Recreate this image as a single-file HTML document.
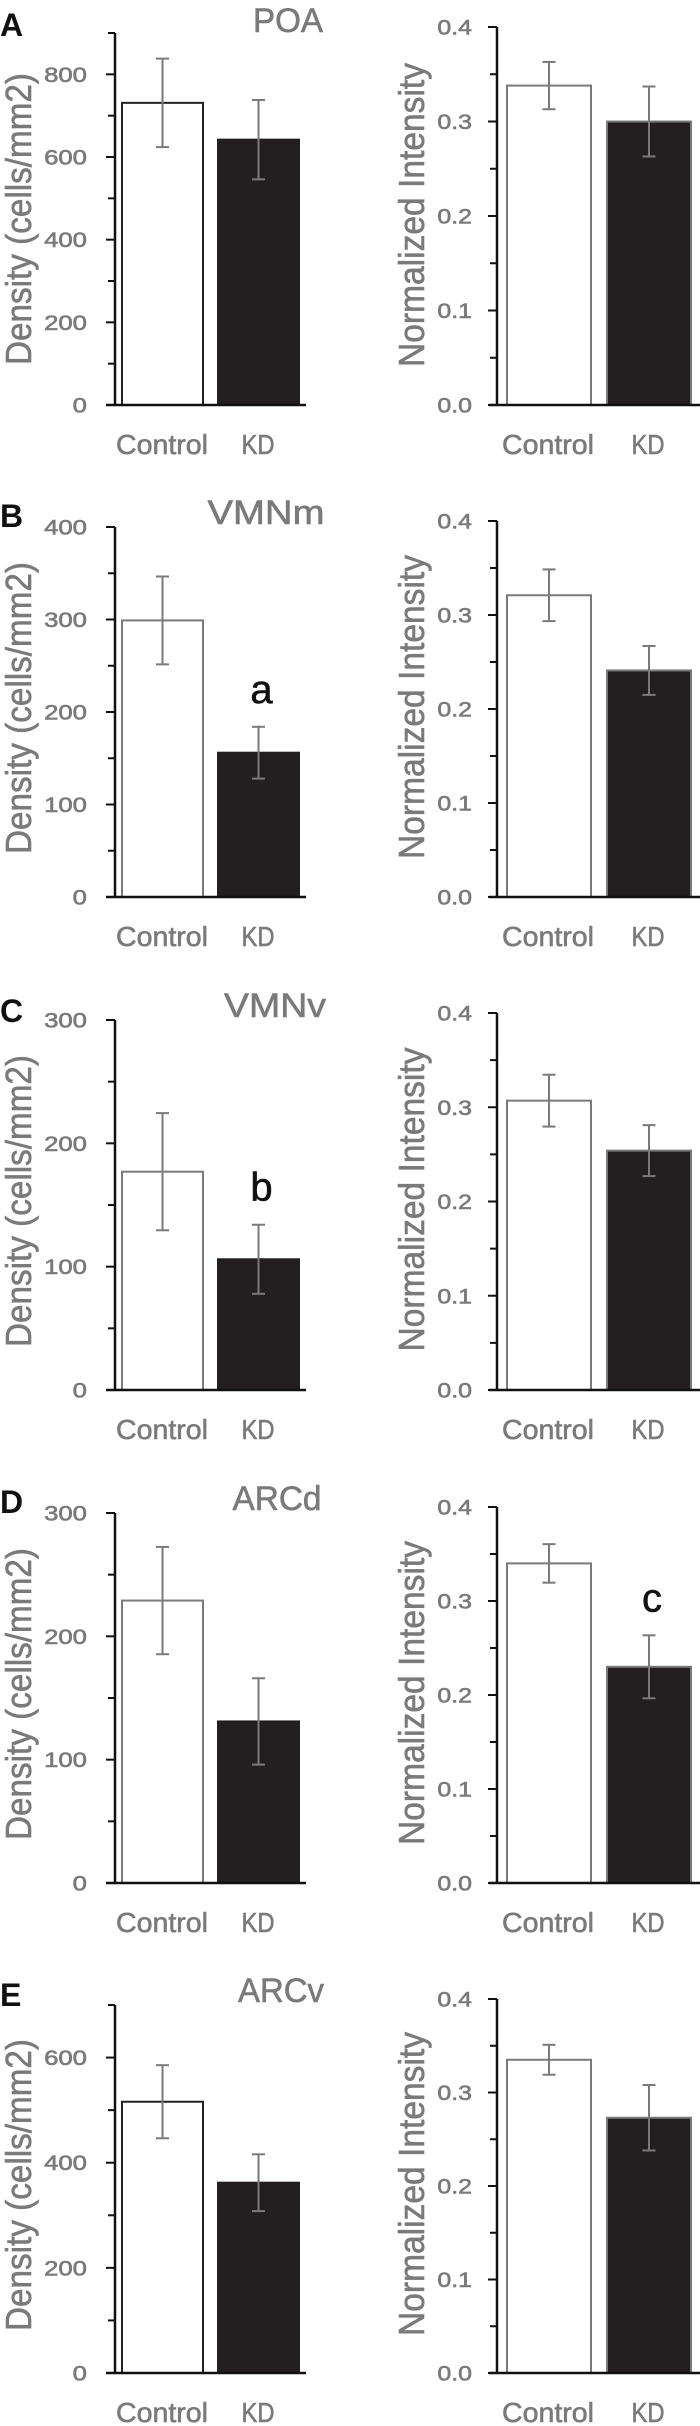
<!DOCTYPE html>
<html><head><meta charset="utf-8">
<style>
html,body{margin:0;padding:0;background:#fff;}
svg{display:block;font-family:"Liberation Sans",sans-serif;}
</style></head>
<body>
<svg id="fig" width="700" height="2426" viewBox="0 0 700 2426" xmlns="http://www.w3.org/2000/svg"></svg>
<script>
const panelLetters = ['A','B','C','D','E'];
const regionTitles = ['POA','VMNm','VMNv','ARCd','ARCv'];
const categories = ['Control','KD'];
const densityControl = [731,299,177,229,516];
const densityControlErr = [107,47.5,47.5,43.5,69.5];
const densityKD = [642,156,106,131,362];
const densityKDErr = [96,28,28,35,54];
const densityMax = [900,400,300,300,700];
const densityMajor = [200,100,100,100,200];
const intensityControl = [0.338,0.321,0.307,0.340,0.335];
const intensityControlErr = [0.025,0.0275,0.0275,0.0205,0.016];
const intensityKD = [0.300,0.241,0.254,0.230,0.273];
const intensityKDErr = [0.037,0.026,0.027,0.0335,0.035];
const intensityMax = 0.4;
const intensityMajor = 0.1;
const sigLetters = [
  {panel:1, chart:'left', text:'a'},
  {panel:2, chart:'left', text:'b'},
  {panel:3, chart:'right', text:'c'}
];

const NS='http://www.w3.org/2000/svg';
const svg=document.getElementById('fig');
function mk(tag, attrs, parent){
  const e=document.createElementNS(NS,tag);
  for(const k in attrs) e.setAttribute(k,attrs[k]);
  (parent||svg).appendChild(e);
  return e;
}
const baselines=[405,897,1390,1883,2373];
const leftTops=[33,527,1020,1513,2005];
const rightTops=[27,521,1013,1507,1999];
const GRAY='#7a7a7a';

function tickLen(s){let n=0;for(const c of s){n+= (c==='.')?6:14.3;}return n;}

function drawChart(p, side){
  const g=mk('g',{});
  
  
  const left = side==='left';
  const ax = left?115:497;
  const x0 = left?106:489, x1 = left?306:700;
  const base = baselines[p], top = left?leftTops[p]:rightTops[p];
  const vmax = left?densityMax[p]:intensityMax;
  const major = left?densityMajor[p]:intensityMajor;
  const y = v => base - (v/vmax)*(base-top);
  const bars = left?[[122,203],[218,299]]:[[507,591],[607,691]];
  const vals = left?[densityControl[p],densityKD[p]]:[intensityControl[p],intensityKD[p]];
  const errs = left?[densityControlErr[p],densityKDErr[p]]:[intensityControlErr[p],intensityKDErr[p]];
  const ctrlStroke = (left && (p===0||p===4))?'#222':GRAY;
  for(let i=0;i<2;i++){
    const r=mk('rect',{x:bars[i][0],y:y(vals[i]),width:bars[i][1]-bars[i][0],height:base-y(vals[i]),
      fill:i===0?'#fff':'#231f20',stroke:i===0?ctrlStroke:(left?'#231f20':GRAY),'stroke-width':2},g);
    
    
  }
  for(let i=0;i<2;i++){
    const cx=(bars[i][0]+bars[i][1])/2;
    const eg=mk('g',{stroke:GRAY,'stroke-width':2},g);
    
    
    mk('line',{x1:cx,x2:cx,y1:y(vals[i]+errs[i]),y2:y(vals[i]-errs[i])},eg);
    mk('line',{x1:cx-6.5,x2:cx+6.5,y1:y(vals[i]+errs[i]),y2:y(vals[i]+errs[i])},eg);
    mk('line',{x1:cx-6.5,x2:cx+6.5,y1:y(vals[i]-errs[i]),y2:y(vals[i]-errs[i])},eg);
  }
  const ya=mk('line',{x1:ax,x2:ax,y1:top,y2:base,stroke:'#111','stroke-width':2.5},g);
  
  
  const xa=mk('line',{x1:x0,x2:x1,y1:base,y2:base,stroke:'#111','stroke-width':2.5},g);
  
  
  const nMinor=Math.round(vmax/(major/2));
  for(let k=0;k<=nMinor;k++){
    const v=k*major/2, ty=y(v), isMaj=(k%2===0);
    mk('line',{x1:ax-(isMaj?9:7),x2:ax,y1:ty,y2:ty,stroke:'#111','stroke-width':2},g);
    if(isMaj){
      const lab = left?String(Math.round(v)):v.toFixed(1);
      const t=mk('text',{x:(left?87:472),y:ty+7.5,'text-anchor':'end','font-size':21,fill:GRAY,stroke:GRAY,'stroke-width':0.6,
        textLength:tickLen(lab),lengthAdjust:'spacingAndGlyphs'},g);
      t.textContent=lab;
      
      
    }
  }
  const cc = left?[162,258]:[548,648];
  for(let i=0;i<2;i++){
    const t=mk('text',{x:cc[i],y:base+49,'text-anchor':'middle','font-size':28,fill:GRAY,stroke:GRAY,'stroke-width':0.6,
      textLength:i===0?92:33,lengthAdjust:'spacingAndGlyphs'},g);
    t.textContent=categories[i];
    
    
  }
  const tx = left?31:424;
  const tcy = left? (p===0?219:(base-top)/2+top-4) : (p===0?215:(base-top)/2+top-2);
  const yt=mk('text',{x:tx,y:tcy,transform:`rotate(-90 ${tx} ${tcy})`,'text-anchor':'middle','font-size':36,fill:GRAY,stroke:GRAY,'stroke-width':0.6,
    textLength:left?292:304,lengthAdjust:'spacingAndGlyphs'},g);
  yt.textContent = left?'Density (cells/mm2)':'Normalized Intensity';
  
  
  sigLetters.forEach(s=>{
    if(s.panel===p && s.chart===side){
      const cx=(bars[1][0]+bars[1][1])/2 + 3;
      const t=mk('text',{x:cx,y:y(vals[1]+errs[1])-24,'text-anchor':'middle','font-size':40,fill:'#111',stroke:'#111','stroke-width':0.6},g);
      t.textContent=s.text;
      
      
    }
  });
}

const titleBase=[32,524,1017,1510,2002];
const titleLen=[70,117,102,89,86];
const titleCx=[288,266,275,277,281];
const letterBase=[36,527,1022,1513,2006];
for(let p=0;p<5;p++){
  const L=mk('text',{x:0,y:letterBase[p],'font-size':32,'font-weight':'bold',fill:'#111'});
  L.textContent=panelLetters[p];
  
  
  const T=mk('text',{x:titleCx[p],y:titleBase[p],'text-anchor':'middle','font-size':34,fill:GRAY,stroke:GRAY,'stroke-width':0.6,
    textLength:titleLen[p],lengthAdjust:'spacingAndGlyphs'});
  T.textContent=regionTitles[p];
  
  
  drawChart(p,'left');
  drawChart(p,'right');
}
</script>
</body></html>
